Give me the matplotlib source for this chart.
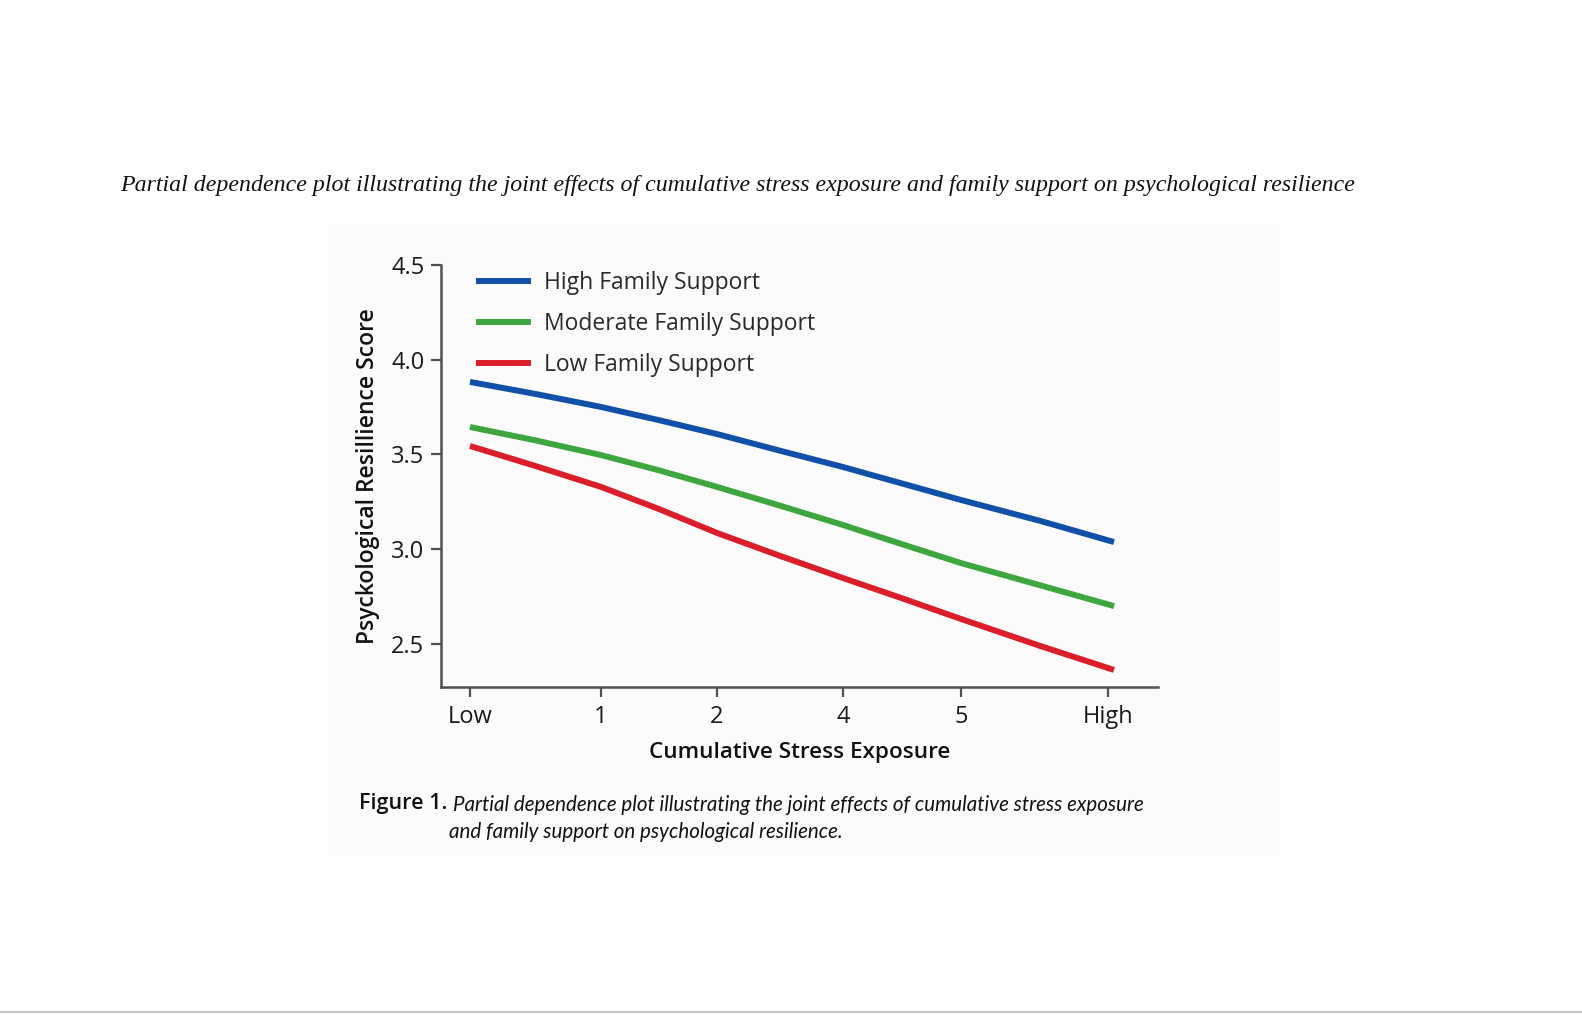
import numpy as np
import matplotlib
matplotlib.use("Agg")
import matplotlib.pyplot as plt
from matplotlib.patches import Rectangle

# stress exposure positions on the axis (Low ... High) and tick labels
tick_pos = [0, 1.31, 2.47, 3.73, 4.91, 6.38]
tick_labels = ["Low", "1", "2", "4", "5", "High"]

# points
stress = [0, 0.65, 1.31, 1.90, 2.47, 3.10, 3.73, 4.30, 4.91, 5.70, 6.44]
high_support = [3.883, 3.82, 3.751, 3.68, 3.608, 3.52, 3.434, 3.35, 3.260, 3.15, 3.038]
moderate_support = [3.645, 3.575, 3.497, 3.415, 3.329, 3.23, 3.128, 3.03, 2.927, 2.81, 2.700]
low_support = [3.545, 3.44, 3.329, 3.21, 3.086, 2.965, 2.848, 2.745, 2.632, 2.49, 2.363]

series = [
    ("High Family Support", high_support, "#1150a8"),
    ("Moderate Family Support", moderate_support, "#3ea63e"),
    ("Low Family Support", low_support, "#da1f2b"),
]

W, H = 1582, 1022
fig = plt.figure(figsize=(W / 100, H / 100), dpi=100)
fig.patch.set_facecolor("white")

# faint panel behind the embedded figure
fig.patches.append(Rectangle((328 / W, 1 - 855 / H), (1280 - 328) / W, (855 - 225) / H,
                             transform=fig.transFigure, facecolor="#fbfbfb",
                             edgecolor="none", zorder=-5))
# thin grey line at the very bottom
fig.add_artist(plt.Line2D([0, 1], [1 - 1012 / H, 1 - 1012 / H], transform=fig.transFigure,
                          color="#c4c4c4", lw=1.5))

fig.text(120 / W, 1 - 185 / H,
         "Partial dependence plot illustrating the joint effects of cumulative stress exposure and family support on psychological resilience",
         fontsize=17.2, family="Liberation Serif", style="italic", va="center", ha="left", color="#111111")

ax = fig.add_axes([441 / W, 1 - 687 / H, (1158 - 441) / W, (687 - 265) / H])
ax.set_facecolor("none")
ax.set_zorder(2)

for name, vals, col in series:
    ax.plot(stress, vals, color=col, lw=4.3, label=name, solid_capstyle="butt",
            solid_joinstyle="round")

ax.set_xlim(-0.29, 6.88)
ax.set_ylim(2.273, 4.5)
ax.set_xticks(tick_pos)
ax.set_xticklabels(tick_labels)
ax.set_yticks([2.5, 3.0, 3.5, 4.0, 4.5])
ax.set_yticklabels(["2.5", "3.0", "3.5", "4.0", "4.5"])

for s in ["top", "right"]:
    ax.spines[s].set_visible(False)
for s in ["left", "bottom"]:
    ax.spines[s].set_color("#505050")
    ax.spines[s].set_linewidth(1.8)

ax.tick_params(axis="both", direction="out", length=7, width=1.6, color="#505050",
               labelsize=17, labelcolor="#1a1a1a")
ax.tick_params(axis="x", pad=6)
ax.tick_params(axis="y", pad=5)
for lab in ax.get_xticklabels() + ax.get_yticklabels():
    lab.set_family("Open Sans")

ax.set_xlabel("Cumulative Stress Exposure", fontsize=16.2, family="Open Sans",
              fontweight="semibold", color="#111111", labelpad=9)
ax.set_ylabel("Psyckological Resillience Score", fontsize=16.5, family="Open Sans",
              fontweight="semibold", color="#111111", labelpad=8)

leg = ax.legend(loc="upper left", bbox_to_anchor=(0.02, 1.035), frameon=False,
                prop={"family": "Open Sans", "size": 16.5}, handlelength=2.4,
                handletextpad=0.55, labelspacing=0.75)
for t in leg.get_texts():
    t.set_color("#2a2a2a")

fig.text(359 / W, 1 - 803 / H, "Figure 1.", fontsize=15.5, family="Open Sans",
         fontweight="semibold", va="center", ha="left", color="#111111")
fig.text(453 / W, 1 - 805 / H,
         "Partial dependence plot illustrating the joint effects of cumulative stress exposure",
         fontsize=14.8, family="Lato", style="italic",
         va="center", ha="left", color="#111111")
fig.text(449 / W, 1 - 832 / H, "and family support on psychological resilience.",
         fontsize=14.8, family="Lato", style="italic",
         va="center", ha="left", color="#111111")

fig.savefig("out.png", dpi=100, facecolor="white")
